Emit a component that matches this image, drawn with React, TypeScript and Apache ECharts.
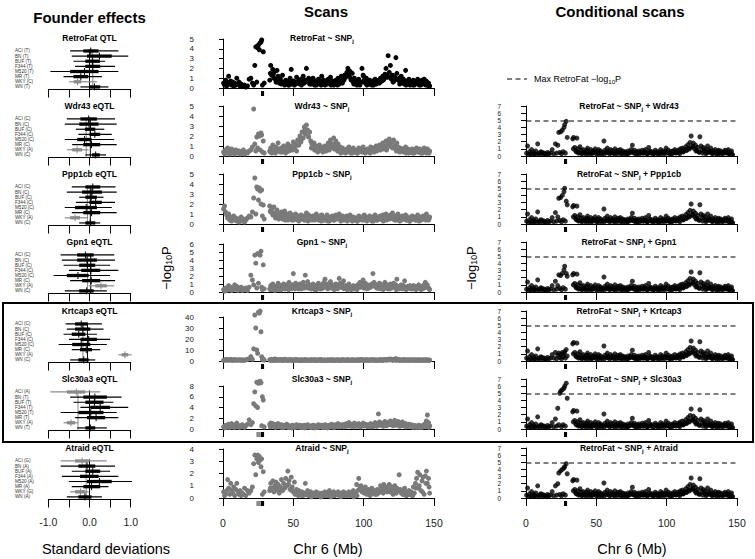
import React, { useEffect, useRef } from "react";
import * as echarts from "echarts";

// ---------- DATA ----------
// SNP positions on chromosome 6 (Mb), shared by every scan
const snpA = [0.4, 1.1, 1.8, 2.6, 3.3, 4.0, 4.8, 5.5, 6.1, 6.9, 7.6, 8.3,
  9.1, 9.8, 10.6, 11.4, 12.1, 12.9, 13.7, 14.5, 15.3, 16.2, 17.4, 18.6];
const snpB = [19.8, 20.9, 21.8, 22.6, 23.3, 24.0, 24.6, 25.2, 25.8, 26.4, 27.0, 27.5, 28.0, 28.6, 29.3];
const snpC = [
  33.2, 33.9, 34.7, 35.4, 36.2, 36.9, 37.7, 38.4, 39.2, 40.0,
  40.8, 41.5, 42.3, 43.1, 43.8, 44.6, 45.4, 46.1, 46.9, 47.7,
  48.5, 49.2, 50.0, 50.8, 51.6, 52.3, 53.1, 53.9, 54.7, 55.4,
  56.2, 57.0, 57.8, 58.5, 59.3, 60.1, 60.9, 61.6, 62.4, 63.2,
  64.0, 64.7, 65.5, 66.3, 67.1, 67.8, 68.6, 69.4, 70.2, 70.9,
  71.7, 72.5, 73.3, 74.0, 74.8, 75.6, 76.4, 77.1, 77.9, 78.7,
  79.5, 80.2, 81.0, 81.8, 82.6, 83.3, 84.1, 84.9, 85.7, 86.4,
  87.2, 88.0, 88.8, 89.5, 90.3, 91.1, 91.9, 92.6, 93.4, 94.2,
  95.0, 95.7, 96.5, 97.3, 98.1, 98.8, 99.6, 100.4, 101.2, 101.9,
  102.7, 103.5, 104.3, 105.0, 105.8, 106.6, 107.4, 108.1, 108.9, 109.7,
  110.5, 111.2, 112.0, 112.8, 113.6, 114.3, 115.1, 115.9, 116.7, 117.4,
  118.2, 119.0, 119.8, 120.5, 121.3, 122.1, 122.9, 123.6, 124.4, 125.2,
  126.0, 126.7, 127.5, 128.3, 129.1, 129.8, 130.6, 131.4, 132.2, 132.9,
  133.7, 134.5, 135.3, 136.0, 136.8, 137.6, 138.4, 139.1, 139.9, 140.7,
  141.5, 142.2, 143.0, 143.8, 144.6, 145.3, 146.1, 146.9];
const snpD = [
  33.6, 35.8, 37.3, 39.6, 41.9, 44.2, 46.5, 48.9, 51.2, 53.5,
  55.8, 58.1, 60.5, 62.8, 65.1, 67.4, 69.8, 72.1, 74.4, 76.8,
  79.1, 81.4, 83.7, 86.0, 88.4, 90.7, 93.0, 95.3, 97.7, 100.0,
  102.3, 104.6, 107.0, 109.3, 111.6, 113.9, 116.3, 118.6, 120.9, 123.2,
  125.6, 127.9, 130.2, 132.5, 134.9, 137.2, 139.5, 141.8, 144.2, 146.5];

// -log10 P, RetroFat ~ SNPj
const retroA = [0.5, 0.3, 0.8, 0.2, 0.6, 1.2, 0.4, 0.7, 0.3, 0.6, 0.2, 0.5,
  0.3, 1.0, 0.4, 0.6, 0.2, 0.4, 0.3, 0.2, 0.3, 0.1, 0.2, 0.9];
const retroB = [1.0, 0.5, 0.3, 2.3, 4.2, 0.6, 4.1, 4.4, 3.9, 4.6, 4.7, 4.9, 0.3, 3.7, 0.5];
const retroC = [
  0.8, 2.3, 1.3, 1.9, 1.0, 1.7, 0.6, 1.8, 1.2, 0.5,
  0.9, 0.4, 1.3, 0.6, 0.3, 0.8, 0.5, 0.7, 0.3, 1.0,
  1.9, 0.4, 0.7, 0.3, 0.6, 1.1, 0.5, 0.8, 0.4, 0.9,
  0.6, 1.2, 0.5, 0.8, 2.0, 0.7, 1.0, 0.4, 0.8, 0.6,
  1.0, 0.5, 0.7, 0.3, 0.6, 0.9, 0.4, 0.7, 1.2, 0.5,
  0.8, 0.3, 0.6, 0.4, 0.9, 0.5, 1.1, 0.4, 0.7, 0.3,
  0.5, 0.8, 0.6, 1.0, 0.4, 0.7, 1.2, 0.5, 0.9, 1.3,
  1.1, 1.6, 2.0, 1.3, 1.7, 0.8, 1.5, 0.6, 1.0, 0.4,
  0.7, 0.5, 0.9, 0.3, 0.6, 2.0, 1.3, 0.8, 0.5, 1.0,
  0.6, 0.4, 0.8, 0.5, 0.3, 0.7, 0.5, 0.9, 0.4, 0.6,
  0.8, 0.5, 1.0, 0.7, 1.2, 0.9, 1.4, 2.0, 1.1, 3.3,
  1.6, 2.3, 0.9, 1.3, 0.7, 1.1, 3.1, 1.5, 0.8, 1.0,
  0.6, 1.2, 0.5, 0.9, 0.4, 1.8, 0.7, 0.5, 0.9, 0.3,
  0.6, 0.4, 0.8, 0.3, 0.5, 0.7, 0.9, 0.4, 0.6, 0.3,
  0.8, 0.5, 0.9, 0.4, 0.7, 0.3, 0.5, 0.2];
const retroD = [
  1.5, 1.4, 0.9, 0.7, 0.5, 0.4, 0.3, 0.6, 0.4, 0.5,
  0.3, 0.6, 0.8, 0.4, 0.3, 0.5, 0.3, 0.4, 0.6, 0.3,
  0.4, 0.3, 0.6, 0.8, 1.4, 1.0, 0.4, 0.3, 0.5, 1.2,
  0.3, 0.4, 0.3, 0.5, 0.6, 0.8, 1.3, 1.1, 0.6, 0.9,
  0.4, 0.6, 0.3, 0.5, 0.3, 0.5, 0.3, 0.4, 0.3, 0.2];

// Wdr43 ~ SNPj
const wdr43A = [0.4, 0.2, 0.6, 0.3, 0.8, 0.5, 0.2, 0.4, 0.7, 0.3, 0.5, 0.2,
  0.6, 0.4, 0.3, 0.5, 0.2, 0.4, 0.3, 0.6, 0.2, 0.4, 0.3, 0.5];
const wdr43B = [0.6, 0.9, 4.7, 1.2, 0.5, 1.9, 0.8, 2.2, 2.0, 0.6, 2.3, 2.1, 0.4, 1.5, 0.3];
const wdr43C = [
  0.5, 0.8, 0.3, 1.1, 0.6, 0.4, 0.9, 0.5, 1.3, 0.7,
  0.4, 0.8, 0.5, 1.0, 0.6, 0.3, 0.9, 1.2, 0.5, 0.7,
  1.0, 0.6, 1.4, 0.8, 1.2, 0.5, 1.6, 1.1, 2.0, 1.4,
  2.4, 1.8, 2.9, 2.2, 3.1, 2.6, 1.9, 2.4, 1.5, 1.2,
  0.9, 1.3, 0.7, 1.0, 0.5, 0.8, 1.1, 0.6, 0.9, 0.4,
  0.7, 1.0, 0.5, 0.8, 1.3, 0.6, 1.6, 0.9, 1.2, 1.8,
  1.1, 1.5, 0.8, 1.2, 0.6, 0.9, 0.5, 0.8, 0.4, 0.6,
  0.3, 0.7, 0.5, 0.9, 0.4, 0.6, 0.3, 0.8, 0.5, 0.4,
  0.6, 0.3, 0.8, 0.5, 0.7, 0.4, 0.9, 0.6, 0.3, 0.5,
  0.7, 0.4, 0.6, 0.9, 0.5, 0.8, 0.4, 0.7, 1.0, 0.6,
  0.8, 1.1, 0.6, 0.9, 1.3, 0.7, 1.0, 1.5, 0.8, 1.2,
  1.7, 1.0, 1.4, 0.8, 1.6, 1.1, 0.7, 1.3, 0.9, 0.6,
  0.8, 0.5, 0.7, 0.4, 0.6, 0.9, 0.5, 0.7, 0.3, 0.6,
  0.4, 0.7, 0.5, 0.3, 0.6, 0.8, 0.4, 0.5, 0.7, 0.3,
  0.6, 0.4, 0.8, 0.5, 0.3, 0.7, 0.4, 0.5];
const wdr43D = [
  0.4, 0.6, 0.3, 0.5, 0.4, 0.7, 0.9, 0.8, 0.9, 1.1,
  1.7, 2.6, 2.0, 0.8, 0.6, 0.4, 0.7, 0.5, 0.9, 1.2,
  0.7, 0.5, 0.3, 0.4, 0.5, 0.3, 0.4, 0.3, 0.5, 0.4,
  0.5, 0.3, 0.6, 0.5, 0.7, 0.9, 0.6, 1.3, 0.9, 0.5,
  0.4, 0.5, 0.3, 0.4, 0.3, 0.5, 0.4, 0.3, 0.5, 0.3];

// Ppp1cb ~ SNPj
const ppp1cbA = [1.5, 1.8, 1.2, 0.9, 0.6, 1.0, 0.4, 0.7, 0.3, 0.5, 0.8, 0.4,
  0.6, 0.3, 0.5, 0.2, 0.4, 0.7, 0.3, 0.5, 0.2, 0.4, 0.6, 0.8];
const ppp1cbB = [0.7, 1.2, 2.6, 4.6, 1.0, 3.7, 3.5, 2.4, 3.6, 3.3, 2.0, 3.4, 0.8, 1.9, 0.5];
const ppp1cbC = [
  1.8, 1.2, 1.5, 0.9, 1.7, 1.1, 0.8, 1.4, 0.6, 1.0,
  0.7, 1.2, 0.5, 0.9, 1.3, 0.6, 1.0, 0.4, 0.8, 1.1,
  0.6, 0.9, 0.4, 0.7, 1.0, 0.5, 0.8, 0.3, 0.6, 0.9,
  0.5, 0.8, 0.4, 0.7, 1.1, 0.6, 0.9, 0.5, 0.7, 0.4,
  0.8, 0.5, 0.7, 1.0, 0.6, 0.4, 0.8, 0.5, 0.9, 0.6,
  0.4, 0.7, 0.5, 0.9, 0.6, 0.3, 0.7, 0.5, 0.8, 0.4,
  0.6, 0.9, 0.5, 0.7, 1.0, 0.6, 0.4, 0.8, 0.5, 0.7,
  0.5, 0.8, 0.4, 0.6, 0.9, 0.5, 0.3, 0.7, 0.6, 0.4,
  0.6, 0.3, 0.8, 0.5, 0.7, 0.4, 0.6, 0.9, 0.5, 0.7,
  0.4, 0.6, 0.8, 0.5, 0.3, 0.7, 0.5, 0.9, 0.6, 0.4,
  0.7, 0.5, 0.8, 0.6, 0.9, 0.4, 0.7, 1.0, 0.6, 0.8,
  0.5, 0.9, 0.6, 1.1, 0.7, 0.4, 0.8, 0.6, 1.0, 0.5,
  0.7, 0.4, 0.8, 0.6, 0.5, 0.9, 0.4, 0.7, 0.5, 0.3,
  0.6, 0.8, 0.5, 0.7, 0.4, 0.6, 0.9, 0.5, 0.7, 0.4,
  0.6, 0.8, 0.5, 0.7, 1.0, 0.6, 0.4, 0.7];
const ppp1cbD = [
  1.3, 1.0, 0.6, 0.5, 0.7, 0.4, 0.6, 0.4, 0.5, 0.4,
  0.6, 0.4, 0.3, 0.5, 0.4, 0.6, 0.3, 0.4, 0.3, 0.5,
  0.4, 0.6, 0.3, 0.4, 0.3, 0.5, 0.4, 0.3, 0.5, 0.4,
  0.3, 0.5, 0.3, 0.4, 0.5, 0.3, 0.4, 0.6, 0.5, 0.4,
  0.3, 0.5, 0.4, 0.3, 0.5, 0.4, 0.3, 0.5, 0.4, 0.5];

// Gpn1 ~ SNPj
const gpn1A = [0.3, 0.1, 0.5, 0.2, 0.4, 0.8, 0.3, 0.6, 0.2, 0.5, 0.3, 0.9,
  0.4, 0.7, 0.2, 0.5, 0.3, 0.6, 0.2, 0.4, 0.3, 0.5, 0.2, 0.6];
const gpn1B = [2.1, 1.5, 0.9, 4.6, 3.6, 0.5, 4.8, 1.1, 4.7, 4.6, 5.1, 0.6, 0.3, 3.4, 0.4];
const gpn1C = [
  0.4, 0.8, 0.3, 1.0, 0.6, 0.2, 0.7, 0.4, 1.1, 0.5,
  0.8, 0.3, 0.6, 1.0, 0.4, 0.7, 0.9, 0.5, 1.2, 0.6,
  0.4, 0.9, 2.3, 0.7, 1.1, 0.5, 0.8, 0.4, 1.0, 0.6,
  0.9, 1.2, 0.5, 2.1, 0.8, 1.3, 0.6, 0.9, 0.4, 0.7,
  1.0, 0.5, 0.8, 0.3, 0.6, 1.1, 0.4, 0.7, 0.9, 0.5,
  1.2, 1.6, 0.7, 1.0, 0.5, 0.8, 1.3, 0.6, 0.9, 0.4,
  0.7, 1.0, 0.5, 0.8, 1.7, 1.1, 0.6, 0.9, 1.4, 0.5,
  0.8, 0.4, 0.7, 1.0, 0.5, 0.3, 0.6, 0.8, 0.4, 0.7,
  0.5, 0.9, 0.6, 1.2, 0.8, 1.0, 1.5, 0.7, 1.1, 0.6,
  0.9, 0.5, 0.8, 0.6, 1.0, 2.3, 1.2, 0.7, 0.9, 0.5,
  0.8, 1.1, 0.6, 0.9, 0.5, 0.8, 1.2, 0.6, 0.9, 0.4,
  0.7, 1.0, 0.5, 0.8, 1.1, 0.6, 0.9, 1.6, 0.7, 0.4,
  0.6, 0.9, 0.5, 0.8, 1.4, 0.6, 0.4, 0.7, 0.5, 0.8,
  0.4, 0.6, 0.8, 0.5, 0.7, 0.4, 0.6, 0.9, 0.5, 0.3,
  0.6, 0.8, 0.5, 1.2, 0.7, 0.9, 0.5, 0.3];
const gpn1D = [
  0.3, 0.5, 0.4, 0.3, 0.5, 0.4, 0.3, 0.6, 0.4, 0.5,
  0.4, 0.6, 0.5, 0.4, 0.3, 0.5, 0.4, 0.6, 0.4, 0.5,
  0.3, 0.4, 0.6, 0.4, 0.3, 0.5, 0.4, 0.3, 0.6, 0.5,
  0.4, 0.6, 0.8, 0.5, 0.4, 0.3, 0.5, 0.4, 0.6, 0.3,
  0.5, 0.4, 0.3, 0.5, 0.4, 0.3, 0.5, 0.4, 0.6, 0.4];

// Krtcap3 ~ SNPj
const krtcap3A = [0.5, 1.0, 0.8, 1.4, 0.6, 1.2, 0.9, 1.5, 0.7, 1.1, 0.5, 1.3,
  0.8, 1.0, 0.6, 1.2, 0.9, 0.7, 1.1, 0.5, 0.8, 1.0, 1.5, 2.0];
const krtcap3B = [4.0, 1.5, 11.0, 41.8, 30.0, 10.0, 7.0, 44.5, 43.5, 45.4, 26.6, 3.9, 1.2, 2.0, 0.8];
const krtcap3C = [
  1.2, 0.8, 1.5, 0.6, 1.0, 1.8, 0.9, 1.3, 0.7, 1.1,
  0.9, 1.4, 0.6, 1.0, 1.6, 0.8, 1.2, 0.5, 1.0, 1.3,
  0.7, 1.1, 0.5, 0.9, 1.4, 0.8, 1.2, 0.6, 1.0, 0.7,
  1.1, 0.6, 0.9, 1.3, 0.7, 1.0, 0.5, 0.8, 1.2, 0.6,
  0.9, 1.3, 0.7, 1.0, 0.6, 1.1, 0.8, 1.4, 0.6, 0.9,
  0.7, 1.0, 0.5, 0.8, 1.2, 0.6, 0.9, 1.1, 0.7, 1.0,
  0.6, 0.9, 1.2, 0.7, 1.0, 0.5, 0.8, 1.3, 0.9, 0.6,
  1.0, 0.7, 1.1, 0.8, 0.5, 0.9, 1.2, 0.7, 1.0, 0.6,
  0.8, 1.1, 0.7, 1.0, 1.4, 0.8, 1.2, 0.6, 0.9, 1.1,
  0.7, 1.0, 0.6, 0.9, 1.3, 0.8, 1.1, 0.7, 1.0, 0.6,
  0.9, 1.2, 0.8, 1.1, 0.7, 1.0, 1.4, 0.9, 1.2, 1.6,
  1.1, 1.8, 1.3, 0.9, 1.5, 1.2, 2.2, 1.0, 1.4, 0.8,
  1.1, 0.7, 1.0, 0.8, 1.3, 0.6, 0.9, 1.1, 0.7, 1.0,
  0.8, 1.1, 0.6, 0.9, 1.2, 0.7, 1.0, 0.8, 1.1, 0.6,
  0.9, 1.2, 0.7, 1.0, 0.8, 1.1, 0.6, 0.9];
const krtcap3D = [
  0.5, 0.7, 0.6, 0.8, 0.5, 0.7, 0.6, 0.5, 0.8, 0.6,
  0.5, 0.7, 0.6, 0.8, 0.5, 0.6, 0.7, 0.5, 0.6, 0.8,
  0.5, 0.6, 0.7, 0.5, 0.8, 0.6, 0.5, 0.7, 0.6, 0.5,
  0.8, 0.6, 0.7, 0.5, 0.6, 0.8, 0.9, 1.0, 0.7, 0.6,
  0.5, 0.7, 0.6, 0.5, 0.8, 0.6, 0.5, 0.7, 0.6, 0.5];

// Slc30a3 ~ SNPj
const slc30a3A = [0.4, 0.2, 0.7, 0.3, 0.5, 0.9, 0.3, 0.6, 1.0, 0.4, 0.7, 0.3,
  0.8, 1.1, 0.5, 0.3, 0.6, 0.4, 0.8, 0.5, 0.3, 0.6, 0.9, 1.7];
const slc30a3B = [0.8, 1.2, 4.7, 6.9, 4.3, 8.7, 4.0, 8.5, 8.8, 8.9, 8.6, 0.6, 6.0, 5.4, 0.4];
const slc30a3C = [
  0.9, 1.1, 0.6, 1.0, 0.8, 0.5, 0.9, 0.7, 1.0, 0.6,
  0.4, 0.8, 0.6, 0.3, 0.7, 0.5, 0.9, 0.4, 0.6, 0.3,
  0.5, 0.7, 0.4, 0.6, 0.3, 0.8, 0.5, 0.4, 0.7, 0.3,
  0.6, 0.4, 0.7, 0.3, 0.5, 0.8, 0.4, 0.6, 0.3, 0.5,
  0.7, 0.4, 0.6, 0.3, 0.5, 0.8, 0.4, 0.6, 0.7, 0.3,
  0.5, 0.8, 0.4, 0.6, 0.3, 0.7, 0.5, 0.9, 0.4, 0.6,
  0.8, 0.5, 0.7, 1.0, 0.6, 0.4, 0.8, 0.5, 0.7, 0.9,
  0.6, 1.0, 0.7, 1.2, 0.8, 0.5, 0.9, 0.6, 1.1, 0.7,
  0.9, 0.6, 1.0, 0.7, 0.5, 0.8, 1.1, 0.6, 0.9, 0.7,
  0.5, 0.8, 0.6, 1.0, 0.7, 0.4, 0.9, 1.2, 0.8, 1.0,
  2.8, 1.3, 0.9, 1.1, 0.7, 1.0, 1.4, 0.8, 1.2, 0.9,
  1.1, 1.5, 0.8, 1.3, 1.0, 1.6, 0.9, 1.2, 1.4, 0.8,
  1.1, 0.7, 1.3, 0.9, 0.6, 1.0, 0.8, 0.5, 0.9, 0.6,
  0.8, 0.5, 0.7, 0.4, 0.6, 0.3, 0.5, 0.7, 0.4, 0.6,
  0.3, 0.5, 0.8, 1.0, 1.5, 2.6, 1.2, 0.6];
const slc30a3D = [
  0.4, 0.5, 0.3, 0.4, 0.3, 0.4, 0.3, 0.2, 0.3, 0.4,
  0.3, 0.2, 0.4, 0.3, 0.2, 0.3, 0.4, 0.3, 0.2, 0.4,
  0.3, 0.4, 0.5, 0.4, 0.5, 0.6, 0.4, 0.5, 0.4, 0.6,
  0.5, 0.4, 0.6, 0.5, 0.7, 0.5, 0.6, 0.8, 0.6, 0.7,
  0.5, 0.6, 0.4, 0.5, 0.3, 0.4, 0.3, 0.5, 0.4, 0.3];

// Atraid ~ SNPj
const atraidA = [0.5, 0.2, 0.3, 0.6, 1.5, 0.8, 0.3, 1.2, 0.6, 0.4, 0.9, 0.2,
  0.7, 1.2, 0.5, 0.3, 0.6, 0.2, 0.4, 0.3, 0.8, 0.2, 0.6, 0.4];
const atraidB = [0.6, 0.9, 2.8, 3.5, 1.9, 3.2, 3.5, 2.9, 3.4, 3.1, 2.55, 3.2, 0.3, 2.15, 0.5];
const atraidC = [
  0.6, 1.2, 0.8, 1.4, 0.5, 1.0, 1.3, 0.7, 1.1, 0.4,
  0.9, 1.5, 0.6, 1.2, 0.8, 1.6, 1.0, 2.2, 1.4, 0.7,
  1.7, 0.9, 0.5, 1.3, 0.4, 0.7, 0.3, 0.6, 0.4, 0.3,
  0.5, 0.2, 0.4, 1.2, 0.3, 0.6, 0.2, 0.4, 0.5, 0.3,
  0.2, 0.4, 0.3, 0.5, 0.2, 0.4, 0.3, 0.1, 0.4, 0.2,
  0.3, 0.5, 0.2, 0.4, 0.3, 0.6, 0.2, 0.4, 0.3, 0.5,
  0.2, 0.4, 0.3, 0.5, 0.2, 0.3, 0.4, 0.2, 0.5, 0.3,
  0.4, 0.2, 0.3, 0.5, 0.2, 0.4, 0.3, 0.6, 0.2, 0.4,
  1.1, 0.6, 1.6, 0.8, 1.0, 0.5, 0.7, 0.4, 0.9, 0.6,
  0.4, 0.7, 0.3, 0.5, 0.8, 0.4, 0.6, 0.3, 0.5, 0.7,
  0.4, 0.6, 1.0, 0.5, 0.8, 1.1, 0.6, 0.9, 0.5, 0.7,
  1.1, 0.6, 0.9, 0.4, 0.7, 1.0, 0.5, 0.8, 0.6, 1.9,
  0.7, 0.4, 0.6, 0.3, 0.8, 0.5, 0.2, 0.4, 0.6, 0.3,
  0.5, 0.2, 0.9, 0.4, 1.2, 1.6, 2.1, 0.8, 1.9, 0.6,
  1.4, 1.7, 0.3, 1.8, 2.2, 1.2, 1.6, 0.4];
const atraidD = [
  0.8, 0.6, 0.9, 0.5, 0.7, 0.9, 1.1, 0.6, 0.3, 0.2,
  0.2, 0.3, 0.2, 0.1, 0.2, 0.3, 0.1, 0.2, 0.2, 0.1,
  0.2, 0.3, 0.1, 0.2, 0.3, 0.2, 0.1, 0.2, 0.8, 0.5,
  0.3, 0.2, 0.4, 0.3, 0.5, 0.4, 0.6, 0.5, 0.3, 0.4,
  0.6, 0.3, 0.2, 0.3, 0.2, 0.8, 1.0, 0.5, 1.2, 0.9];

// Conditional scans: RetroFat ~ SNPj + gene (common part away from the peak)
const condA = [0.4, 1.4, 0.2, 0.6, 0.3, 0.9, 0.2, 0.5, 0.3, 0.7, 0.2, 1.7,
  0.4, 0.3, 0.6, 0.5, 0.2, 0.4, 0.3, 0.2, 0.5, 0.3, 0.4, 0.9];
const condC = [
  2.4, 2.6, 1.2, 0.7, 2.5, 1.0, 0.5, 1.3, 0.8, 0.4,
  0.9, 0.5, 0.3, 0.8, 1.1, 0.6, 0.4, 0.9, 0.3, 0.7,
  0.5, 1.0, 0.3, 0.6, 0.9, 0.4, 0.7, 0.3, 0.5, 2.1,
  0.8, 0.5, 1.1, 0.6, 0.3, 0.9, 0.5, 0.7, 0.4, 1.0,
  0.6, 0.3, 0.8, 0.5, 0.9, 0.4, 0.7, 0.3, 0.6, 0.5,
  0.3, 0.7, 0.4, 0.6, 0.9, 1.5, 0.5, 0.8, 0.3, 0.6,
  0.4, 0.7, 0.3, 0.5, 0.8, 0.4, 0.6, 0.9, 0.5, 0.3,
  1.2, 0.7, 0.4, 0.6, 0.3, 0.5, 0.8, 0.4, 0.6, 0.3,
  0.5, 0.9, 0.4, 0.7, 0.3, 0.6, 1.1, 0.5, 0.8, 0.4,
  0.6, 0.3, 0.7, 0.5, 0.9, 0.4, 0.6, 0.8, 0.5, 1.0,
  0.7, 1.1, 0.6, 0.9, 1.3, 0.8, 1.6, 1.1, 1.9, 2.8,
  1.3, 1.8, 1.0, 1.5, 0.8, 1.2, 0.6, 2.7, 1.4, 0.9,
  1.2, 0.7, 1.0, 0.5, 1.4, 0.8, 0.6, 1.1, 0.4, 0.7,
  0.5, 0.9, 0.3, 0.6, 0.8, 0.4, 0.7, 0.5, 0.3, 0.6,
  0.8, 0.4, 0.6, 0.9, 0.3, 0.5, 0.7, 0.2];
const condD = [
  1.0, 0.6, 0.4, 0.3, 0.5, 0.3, 0.4, 0.6, 0.3, 0.4,
  0.3, 0.5, 0.4, 0.3, 0.5, 0.3, 0.4, 0.3, 0.5, 0.4,
  0.3, 0.5, 0.4, 0.3, 0.5, 0.3, 0.4, 0.3, 0.5, 0.4,
  0.3, 0.4, 0.5, 0.3, 0.6, 0.8, 1.0, 1.3, 0.7, 0.5,
  0.4, 0.3, 0.5, 0.3, 0.4, 0.3, 0.4, 0.5, 0.3, 0.2];
// peak region (snpB) of each conditional scan
const condWdr43B = [0.3, 1.7, 0.4, 1.5, 3.3, 0.5, 3.4, 0.3, 3.6, 0.6, 4.0, 4.4, 0.4, 4.85, 2.6];
const condPpp1cbB = [0.3, 1.6, 0.4, 1.0, 3.6, 0.5, 3.7, 0.3, 4.0, 0.6, 4.5, 5.0, 0.4, 3.2, 2.7];
const condGpn1B = [0.3, 1.5, 0.4, 0.9, 2.4, 0.5, 2.3, 0.3, 2.6, 0.6, 3.1, 3.6, 0.4, 2.6, 2.2];
const condKrtcap3B = [0.4, 1.2, 0.3, 0.8, 1.1, 0.5, 0.9, 0.3, 1.2, 0.6, 1.0, 1.3, 0.4, 1.6, 0.7];
const condSlc30a3B = [0.3, 1.4, 0.4, 2.9, 0.6, 5.0, 5.3, 0.3, 5.5, 0.6, 5.7, 6.0, 0.4, 6.4, 4.3];
const condAtraidB = [0.3, 1.7, 0.4, 2.0, 3.5, 0.5, 3.8, 0.3, 4.0, 0.6, 4.2, 4.4, 0.4, 4.8, 3.4];
const retroFatMaxLogP = 4.9;

// Founder effects: per strain [lo95, lo50, estimate, hi50, hi95] in SD
const strains = ["ACI", "BN", "BUF", "F344", "M520", "MR", "WKY", "WN"];
const retroFatAlleles = ["T", "T", "T", "T", "T", "T", "C", "T"];
const cisAllelesCA = ["C", "C", "C", "C", "C", "C", "A", "C"];
const slc30a3Alleles = ["A", "T", "T", "T", "T", "T", "A", "T"];
const atraidAlleles = ["G", "A", "A", "A", "A", "A", "G", "A"];
const retroFatFE = [[-0.47, -0.15, 0.03, 0.22, 0.70], [-0.43, -0.06, 0.24, 0.54, 0.94], [-0.39, -0.10, 0.07, 0.25, 0.38], [-0.35, -0.10, 0.08, 0.26, 0.62], [-0.95, -0.47, -0.12, 0.22, 0.70], [-0.63, -0.39, -0.21, -0.03, 0.30], [-0.50, -0.38, -0.29, -0.20, 0.18], [-0.22, -0.01, 0.12, 0.26, 0.46]];
const wdr43FE = [[-0.55, -0.22, -0.02, 0.18, 0.62], [-0.60, -0.25, -0.01, 0.22, 0.66], [-0.33, -0.11, 0.02, 0.14, 0.36], [-0.27, 0.00, 0.13, 0.26, 0.54], [-0.60, -0.30, -0.12, 0.05, 0.60], [-0.42, -0.15, 0.05, 0.26, 0.66], [-0.55, -0.42, -0.30, -0.18, -0.02], [-0.10, 0.06, 0.15, 0.25, 0.40]];
const ppp1cbFE = [[-0.43, -0.10, 0.08, 0.26, 0.63], [-0.55, -0.18, 0.06, 0.30, 0.66], [-0.25, -0.10, 0.04, 0.18, 0.34], [-0.33, 0.00, 0.15, 0.30, 0.62], [-0.60, -0.35, -0.08, 0.18, 0.54], [-0.43, -0.15, 0.05, 0.26, 0.66], [-0.60, -0.47, -0.35, -0.23, -0.05], [-0.25, -0.10, 0.02, 0.14, 0.26]];
const gpn1FE = [[-0.70, -0.30, -0.10, 0.10, 0.60], [-0.67, -0.30, -0.06, 0.18, 0.62], [-0.63, -0.25, -0.05, 0.14, 0.50], [-0.50, -0.20, 0.03, 0.26, 0.70], [-0.87, -0.55, -0.28, -0.02, 0.50], [-0.47, -0.18, 0.04, 0.26, 0.62], [-0.02, 0.14, 0.28, 0.42, 0.60], [-0.60, -0.25, -0.07, 0.10, 0.42]];
const krtcap3FE = [[-0.58, -0.35, -0.20, -0.06, 0.30], [-0.55, -0.35, -0.16, 0.02, 0.34], [-0.63, -0.43, -0.26, -0.10, 0.18], [-0.50, -0.22, -0.02, 0.18, 0.50], [-0.75, -0.42, -0.20, 0.02, 0.42], [-0.43, -0.23, -0.08, 0.06, 0.26], [0.70, 0.78, 0.86, 0.94, 1.02], [-0.47, -0.27, -0.14, -0.02, 0.14]];
const slc30a3FE = [[-0.95, -0.55, -0.32, -0.10, 0.26], [-0.47, -0.15, 0.13, 0.42, 0.78], [-0.39, -0.10, 0.12, 0.34, 0.58], [-0.22, 0.02, 0.26, 0.50, 0.94], [-0.70, -0.27, 0.03, 0.34, 0.66], [-0.35, -0.06, 0.16, 0.38, 0.70], [-0.63, -0.55, -0.45, -0.35, -0.27], [-0.30, -0.10, 0.02, 0.14, 0.42]];
const atraidFE = [[-0.70, -0.35, -0.18, -0.02, 0.42], [-0.70, -0.27, -0.06, 0.14, 0.62], [-0.43, -0.10, 0.08, 0.26, 0.50], [-0.67, -0.23, 0.00, 0.22, 0.70], [-0.50, -0.06, 0.24, 0.54, 1.03], [-0.43, -0.15, 0.05, 0.26, 0.46], [-0.47, -0.35, -0.22, -0.10, -0.02], [-0.55, -0.27, -0.11, 0.05, 0.30]];
// vertical reference lines in each founder panel [black, grey]
const feRefLines = [[0.0, 0.08], [0.02, -0.08], [0.02, -0.05], [0.03, -0.05], [-0.05, -0.16], [0.0, -0.28], [0.0, -0.08]];

const traits = ["RetroFat", "Wdr43", "Ppp1cb", "Gpn1", "Krtcap3", "Slc30a3", "Atraid"];
const scanYMax = [5, 5, 5, 6, 40, 8, 4];
const scanYStep = [1, 1, 1, 1, 10, 2, 1];
const condYMax = 7;
const xTicks = [0, 50, 100, 150];
const genePeakMb = [27.0, 29.2];
const geneGreyMb = [23.7, 26.9];

// ---------- LAYOUT ----------
const FONT = '"Liberation Sans", Arial, Helvetica, sans-serif';
const zeroY = [88, 156, 224, 292, 361, 429, 498];
const scanTopY = [39, 106, 174, 244, 317, 386, 449];
const GREY = "#7a7a7a";
const FE_GREY = "#8a8a8a";
const DOT = 5;

function zip(pos: number[], vals: number[]) {
  const n = Math.min(pos.length, vals.length);
  const out: number[][] = [];
  for (let i = 0; i < n; i++) out.push([pos[i], vals[i]]);
  return out;
}
function scanData(a: number[], b: number[], c: number[], d: number[]) {
  return [...zip(snpA, a), ...zip(snpB, b), ...zip(snpC, c), ...zip(snpD, d)];
}

function buildOption() {
  const grid: any[] = [];
  const xAxis: any[] = [];
  const yAxis: any[] = [];
  const series: any[] = [];
  const graphic: any[] = [];

  const axisLine = { show: true, lineStyle: { color: "#000", width: 1 } };
  const txt = (x: number, y: number, text: string, size: number, bold = false, extra: any = {}) => ({
    type: "text", x, y, silent: true,
    style: { text, fontSize: size, fontWeight: bold ? "bold" : "normal", fontFamily: FONT, fill: "#000", align: "center", verticalAlign: "middle", ...extra },
  });
  const richTitle = (x: number, y: number, main: string, rest: string) => ({
    type: "text", x, y, silent: true,
    style: {
      text: `{b|${main}}{s|j}{b|${rest}}`, align: "center", verticalAlign: "middle",
      rich: {
        b: { fontSize: 8.5, fontWeight: "bold", fontFamily: FONT, fill: "#000", lineHeight: 11 },
        s: { fontSize: 6, fontWeight: "bold", fontFamily: FONT, fill: "#000", lineHeight: 6, verticalAlign: "bottom" },
      },
    },
  });

  // ---- Founder effect panels ----
  const feSets = [retroFatFE, wdr43FE, ppp1cbFE, gpn1FE, krtcap3FE, slc30a3FE, atraidFE];
  const feAlleles = [retroFatAlleles, cisAllelesCA, cisAllelesCA, cisAllelesCA, cisAllelesCA, slc30a3Alleles, atraidAlleles];
  const feTitles = ["RetroFat QTL", "Wdr43 eQTL", "Ppp1cb eQTL", "Gpn1 eQTL", "Krtcap3 eQTL", "Slc30a3 eQTL", "Atraid eQTL"];
  feSets.forEach((fe, r) => {
    const gi = grid.length;
    const al = feAlleles[r];
    const counts: Record<string, number> = {};
    al.forEach((a) => (counts[a] = (counts[a] || 0) + 1));
    const major = Object.keys(counts).sort((p, q) => counts[q] - counts[p])[0];
    grid.push({ left: 48.3, top: zeroY[r] - 39.6, width: 82.4, height: 41.1 });
    xAxis.push({
      gridIndex: gi, type: "value", min: -1, max: 1, interval: 0.5,
      axisLine, axisTick: { show: true, length: 8, lineStyle: { color: "#000" } },
      axisLabel: {
        show: r === 6, fontSize: 10.5, color: "#222", fontFamily: FONT, margin: 17,
        formatter: (v: number) => (Math.abs(v - Math.round(v)) < 1e-9 ? v.toFixed(1) : ""),
      },
      splitLine: { show: false },
    });
    yAxis.push({
      gridIndex: gi, type: "category", inverse: true,
      data: strains.map((s, i) => `${s} (${al[i]})`),
      axisLine: { show: false }, axisTick: { show: false }, splitLine: { show: false },
      axisLabel: { interval: 0, fontSize: 4.6, lineHeight: 5, color: "#333", fontFamily: FONT, align: "left", margin: 33.3 },
    });
    series.push({
      type: "custom", xAxisIndex: gi, yAxisIndex: gi, silent: true,
      encode: { x: 0 },
      data: [[feRefLines[r][0], 0], [feRefLines[r][1], 1]],
      renderItem: (params: any, api: any) => {
        const cs = params.coordSys;
        const x = api.coord([api.value(0), 0])[0];
        return {
          type: "line",
          shape: { x1: x, y1: cs.y + 1, x2: x, y2: cs.y + cs.height },
          style: { stroke: api.value(1) ? FE_GREY : "#000", lineWidth: 1 },
        };
      },
    });
    series.push({
      type: "custom", xAxisIndex: gi, yAxisIndex: gi, silent: true,
      encode: { x: [1, 2, 3, 4, 5], y: 0 },
      data: fe.map((d, i) => [i, ...d, al[i] === major ? 0 : 1]),
      renderItem: (_p: any, api: any) => {
        const yi = api.value(0);
        const c = api.value(6) ? FE_GREY : "#000";
        const a = api.coord([api.value(1), yi]);
        const b = api.coord([api.value(2), yi]);
        const e = api.coord([api.value(3), yi]);
        const d = api.coord([api.value(4), yi]);
        const f = api.coord([api.value(5), yi]);
        return {
          type: "group",
          children: [
            { type: "line", shape: { x1: a[0], y1: a[1], x2: f[0], y2: f[1] }, style: { stroke: c, lineWidth: 1.2 } },
            { type: "line", shape: { x1: b[0], y1: b[1], x2: d[0], y2: d[1] }, style: { stroke: c, lineWidth: 3.3 } },
            { type: "line", shape: { x1: e[0], y1: e[1] - 3.5, x2: e[0], y2: e[1] + 3.5 }, style: { stroke: c, lineWidth: 1 } },
          ],
        };
      },
    });
    graphic.push(txt(89.5, zeroY[r] - 50, feTitles[r], 8.5, true));
  });

  const markerSeries = (gi: number, grey: boolean) => ({
    type: "custom", xAxisIndex: gi, yAxisIndex: gi, silent: true,
    encode: { x: [0, 1] },
    data: grey ? [[geneGreyMb[0], geneGreyMb[1], 1], [genePeakMb[0], genePeakMb[1], 0]] : [[genePeakMb[0], genePeakMb[1], 0]],
    renderItem: (_p: any, api: any) => {
      const p0 = api.coord([api.value(0), 0]);
      const p1 = api.coord([api.value(1), 0]);
      return {
        type: "rect",
        shape: { x: p0[0], y: p0[1] + 3, width: p1[0] - p0[0], height: 5 },
        style: { fill: api.value(2) ? "#8a8a8a" : "#000" },
      };
    },
  });

  const xScanAxis = (gi: number, showLabels: boolean) => ({
    gridIndex: gi, type: "value", min: 0, max: 150, interval: 50, offset: 2,
    axisLine, axisTick: { show: true, length: 8, lineStyle: { color: "#000" } },
    axisLabel: { show: showLabels, fontSize: 10.5, color: "#222", fontFamily: FONT, margin: 17,
      formatter: (v: number) => (xTicks.includes(v) ? String(v) : "") },
    splitLine: { show: false },
  });

  // ---- Scans ----
  const scanSets = [
    [retroA, retroB, retroC, retroD], [wdr43A, wdr43B, wdr43C, wdr43D], [ppp1cbA, ppp1cbB, ppp1cbC, ppp1cbD],
    [gpn1A, gpn1B, gpn1C, gpn1D], [krtcap3A, krtcap3B, krtcap3C, krtcap3D], [slc30a3A, slc30a3B, slc30a3C, slc30a3D],
    [atraidA, atraidB, atraidC, atraidD],
  ];
  scanSets.forEach((s, r) => {
    const gi = grid.length;
    grid.push({ left: 223, top: scanTopY[r], width: 211, height: zeroY[r] - scanTopY[r] });
    xAxis.push(xScanAxis(gi, r === 6));
    yAxis.push({
      gridIndex: gi, type: "value", min: 0, max: scanYMax[r], interval: scanYStep[r], offset: 8,
      axisLine, axisTick: { show: true, length: 4, lineStyle: { color: "#000" } },
      axisLabel: { fontSize: 8, lineHeight: 7.5, color: "#222", fontFamily: FONT, margin: 21, showMinLabel: true, showMaxLabel: true, hideOverlap: false },
      splitLine: { show: false },
    });
    series.push({
      type: "scatter", xAxisIndex: gi, yAxisIndex: gi, silent: true, clip: false,
      symbolSize: DOT, itemStyle: { color: r === 0 ? "#000" : GREY, opacity: 1 },
      data: scanData(s[0], s[1], s[2], s[3]),
    });
    series.push(markerSeries(gi, r >= 5));
    graphic.push(richTitle(322, zeroY[r] - 50, `${traits[r]} ~ SNP`, ""));
  });

  // ---- Conditional scans ----
  const condBs = [condWdr43B, condPpp1cbB, condGpn1B, condKrtcap3B, condSlc30a3B, condAtraidB];
  condBs.forEach((b, k) => {
    const r = k + 1;
    const gi = grid.length;
    grid.push({ left: 526, top: zeroY[r] - 50, width: 211, height: 50 });
    xAxis.push(xScanAxis(gi, r === 6));
    yAxis.push({
      gridIndex: gi, type: "value", min: 0, max: condYMax, interval: 1, offset: 8,
      axisLine, axisTick: { show: true, length: 5, lineStyle: { color: "#000" } },
      axisLabel: { fontSize: 6.5, lineHeight: 7, color: "#222", fontFamily: FONT, margin: 17, showMinLabel: true, showMaxLabel: true, hideOverlap: false },
      splitLine: { show: false },
    });
    series.push({
      type: "line", xAxisIndex: gi, yAxisIndex: gi, silent: true, clip: false, symbol: "none",
      lineStyle: { color: "#000", width: 1.1, type: [5, 3.5] },
      data: [[-5.7, retroFatMaxLogP], [153.5, retroFatMaxLogP]],
    });
    series.push({
      type: "scatter", xAxisIndex: gi, yAxisIndex: gi, silent: true, clip: false,
      symbolSize: DOT, itemStyle: { color: "#000" },
      data: scanData(condA, b, condC, condD),
    });
    series.push(markerSeries(gi, false));
    graphic.push(richTitle(629, zeroY[r] - 50, "RetroFat ~ SNP", ` + ${traits[r]}`));
  });

  // ---- column titles, axis titles, legend, highlight box ----
  graphic.push(txt(89.5, 17, "Founder effects", 15, true));
  graphic.push(txt(326, 11, "Scans", 15, true));
  graphic.push(txt(620, 11, "Conditional scans", 15, true));
  graphic.push(txt(106, 549, "Standard deviations", 14.5));
  graphic.push(txt(328, 549, "Chr 6 (Mb)", 14.5));
  graphic.push(txt(632, 549, "Chr 6 (Mb)", 14.5));
  const logRich = (size: number) => ({
    n: { fontSize: size, fontFamily: FONT, fill: "#000", lineHeight: size + 2 },
    s: { fontSize: size * 0.68, fontFamily: FONT, fill: "#000", lineHeight: size * 0.68, verticalAlign: "bottom" },
  });
  [166, 471].forEach((x) => {
    graphic.push({
      type: "text", x, y: 268, rotation: Math.PI / 2, silent: true,
      style: { text: "{n|\u2212log}{s|10}{n|P}", align: "center", verticalAlign: "middle", rich: logRich(13) },
    });
  });
  graphic.push({
    type: "line", silent: true,
    shape: { x1: 507, y1: 79, x2: 527, y2: 79 },
    style: { stroke: "#000", lineWidth: 1.1, lineDash: [5, 3.5] },
  });
  graphic.push({
    type: "text", x: 534, y: 79, silent: true,
    style: { text: "{n|Max RetroFat \u2212log}{s|10}{n|P}", align: "left", verticalAlign: "middle", rich: logRich(9) },
  });
  graphic.push({
    type: "rect", silent: true,
    shape: { x: 3, y: 303, width: 750, height: 139 },
    style: { fill: "none", stroke: "#000", lineWidth: 2 },
  });

  return { animation: false, backgroundColor: "#fff", grid, xAxis, yAxis, series, graphic };
}

export default function App() {
  const ref = useRef<HTMLDivElement>(null);
  useEffect(() => {
    if (!ref.current) return;
    const chart = echarts.init(ref.current, null, { renderer: "svg", width: 755, height: 559 });
    chart.setOption(buildOption() as any);
    return () => chart.dispose();
  }, []);
  return (
    <div
      ref={ref}
      style={{ width: 755, height: 559, position: "absolute", left: 0, top: 0, background: "#fff" }}
    />
  );
}
